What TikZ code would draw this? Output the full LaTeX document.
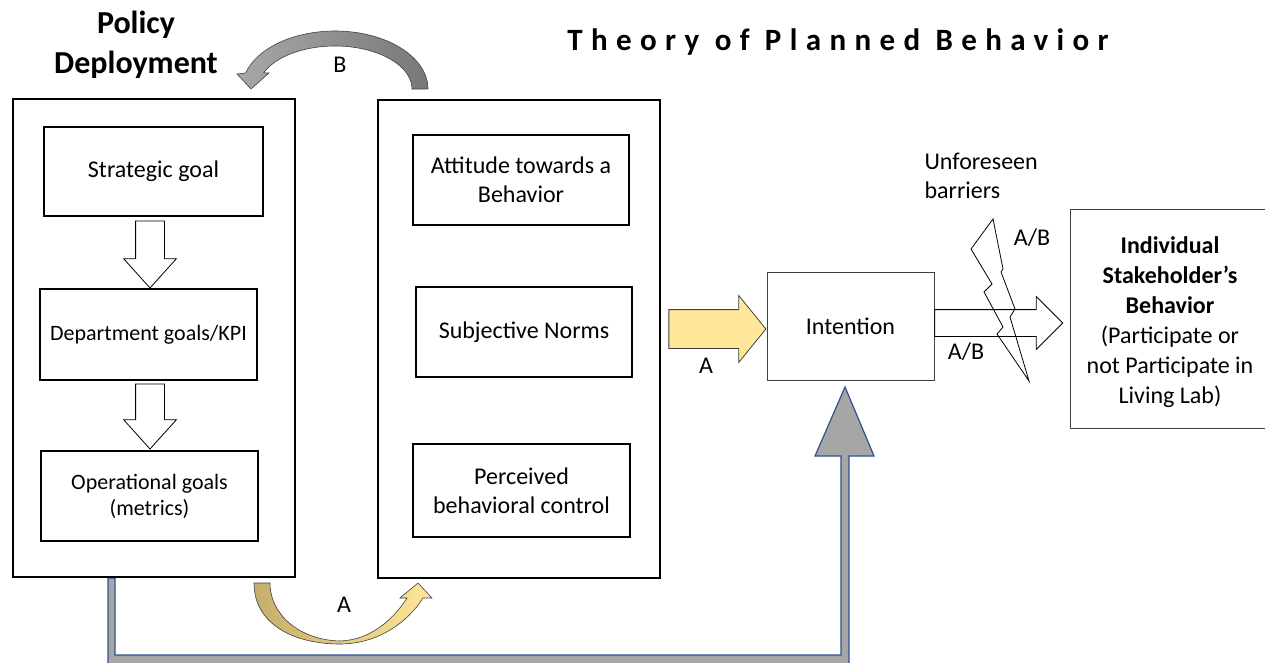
\documentclass[tikz,border=0pt]{standalone}
\usepackage{fontspec}
\setmainfont{Carlito}
\newfontfamily\titlefont[LetterSpace=27]{Carlito}
\usetikzlibrary{shapes.arrows}

\definecolor{barYellow}{RGB}{255,230,153}
\definecolor{barTan}{RGB}{196,174,106}
\definecolor{bendLight}{RGB}{168,168,168}
\definecolor{bendDark}{RGB}{120,120,120}
\definecolor{frameGray}{RGB}{166,166,166}
\definecolor{frameBlue}{RGB}{47,82,143}
\definecolor{edgeGray}{RGB}{64,64,64}

\begin{document}
\begin{tikzpicture}[x=1pt, y=-1pt]
% define node styles
\tikzset{
  bigbox/.style  = {draw, line width=2.2pt, minimum width=282pt, minimum height=478pt},
  goal/.style    = {draw, line width=1.1pt, align=center, font=\fontsize{22}{26}\selectfont},
  tpb/.style     = {draw, line width=1.1pt, align=center, font=\fontsize{24}{29}\selectfont},
  txt/.style     = {align=center, font=\fontsize{24}{29}\selectfont},
  blockarrow/.style = {single arrow, draw, inner xsep=0pt, line width=0.8pt},
}
\useasboundingbox (0,0) rectangle (1265,663);

% title and heading
\node [txt, font=\fontsize{32}{40}\selectfont\bfseries] (head) at (136,45) {Policy\\Deployment};
\node [font=\fontsize{31}{36}\titlefont\bfseries] (title) at (838,42) {Theory of Planned Behavior};

% feedback frame (drawn first, boxes sit on top)
\draw [fill=frameGray, draw=frameBlue, line width=1.2pt]
  (108,578) -- (108,668) -- (849,668) -- (849,456) -- (874,456) -- (845,387)
  -- (815,456) -- (841,456) -- (841,655) -- (115,655) -- (115,578) -- cycle;

% outer boxes
\node [bigbox, fill=white] (pd)  at (154,338) {};
\node [bigbox, fill=white] (tpb) at (519,339) {};

% goal boxes
\foreach \n/\x/\y/\w/\h/\t in {sg/153.5/171.5/219/89/{\fontsize{24}{29}\selectfont Strategic goal},
                                dg/148.5/334.5/217/91/{Department goals/KPI},
                                og/149.5/496/217/90/{Operational goals\\(metrics)}}
    \node [goal, minimum width=\w pt, minimum height=\h pt] (\n) at (\x,\y) {\t};

% planned behavior boxes
\foreach \n/\x/\y/\w/\h/\t in {att/521/180/216/90/{Attitude towards a\\Behavior},
                                sn/524/332/216/90/{Subjective Norms},
                                pbc/521.5/490.5/217/93/{Perceived\\behavioral control}}
    \node [tpb, minimum width=\w pt, minimum height=\h pt] (\n) at (\x,\y) {\t};

\node [tpb, draw=edgeGray, line width=1pt, minimum width=167pt, minimum height=108pt] (int) at (850.5,326) {Intention};
\node [tpb, draw=edgeGray, line width=1pt, minimum width=200pt, minimum height=219pt] (ind) at (1170,318.5) {};
\node [txt, font=\fontsize{24}{30}\selectfont, yshift=-4pt] (indtext) at (ind.center)
  {\textbf{Individual}\\\textbf{Stakeholder’s}\\\textbf{Behavior}\\(Participate or\\not Participate in\\Living Lab)};

% block arrows
\foreach \n/\y/\l in {dn1/246.5/67, dn2/408.5/65}
    \node [blockarrow, fill=white, rotate=-90, minimum height=\l pt, inner ysep=14pt,
           single arrow head extend=12pt, single arrow tip angle=84] (\n) at (150,\y) {};
\node [blockarrow, fill=barYellow, draw=edgeGray, minimum height=97pt, inner ysep=19pt,
       single arrow head extend=14pt, single arrow tip angle=102] (ya) at (709.5,329) {};
\node [blockarrow, minimum height=128pt, inner ysep=13pt,
       single arrow head extend=13pt, single arrow tip angle=90] (ha) at (992,323) {};

% unforeseen barrier bolt
\draw [line width=0.8pt] (993,219) -- (971,249) -- (992,284) -- (984,292) -- (1003,327)
  -- (997,334) -- (1029,381) -- (1010,317) -- (1015,309) -- (1001,272) -- (1003,269) -- cycle;

% curved arrows
\draw [left color=bendLight, right color=bendDark, draw=edgeGray, line width=0.6pt]
  (428,89) arc[start angle=0, end angle=164, x radius=93pt, y radius=58pt]
  -- (237,74) -- (251,89) -- (269,73) -- (263.6,72.9)
  arc[start angle=158, end angle=0, x radius=77pt, y radius=43pt] -- cycle;
\draw [left color=barTan, right color=barYellow, draw=edgeGray, line width=0.6pt]
  (254,583) .. controls (254,625) and (295,644) .. (340,644)
  .. controls (378,644) and (408,622) .. (423,598)
  -- (432,598) -- (418,583) -- (400,598) -- (407,598)
  .. controls (393,620) and (370,640) .. (340,641)
  .. controls (300,640) and (270,615) .. (270,583) -- cycle;

% labels
\node [txt] (lb)  at (340,65)  {B};
\node [txt] (la)  at (344,605) {A};
\node [txt] (lya) at (706,366) {A};
\node [txt] (lab1) at (966,352) {A/B};
\node [txt] (lab2) at (1032,238) {A/B};
\node [txt, align=left, anchor=west] (ub) at (921,176) {Unforeseen\\barriers};

\end{tikzpicture}
\end{document}
